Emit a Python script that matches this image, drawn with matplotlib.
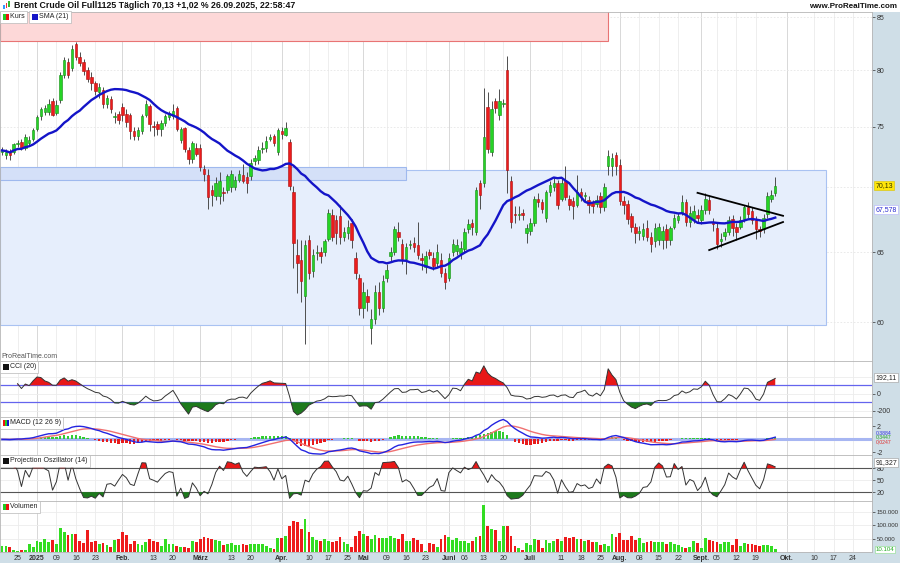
import matplotlib
matplotlib.use("Agg")
import matplotlib.pyplot as plt
import numpy as np
import pandas as pd
from matplotlib.patches import Rectangle
from matplotlib.ticker import FuncFormatter, NullLocator

plt.rcParams['font.family'] = ['Liberation Sans', 'DejaVu Sans']

# Handelstage (ICE Brent), Kalender läuft bis Ende Oktober für die Achse
holidays = ["2025-01-01", "2025-04-18"]
calendar = pd.bdate_range("2024-12-19", "2025-10-31")
calendar = calendar[~calendar.isin(pd.to_datetime(holidays))]

opens = [
    72.9, 72.6, 72.9, 72.9, 73.5, 73.7, 73.2, 73.6, 74.0, 74.8,
    75.9, 76.3, 76.3, 77.2, 76.2, 77.3, 79.6, 80.8, 80.2, 82.4,
    81.2, 80.8, 80.0, 79.4, 78.8, 78.0, 78.2, 77.0, 77.4, 75.8,
    76.1, 76.7, 76.1, 76.0, 74.6, 74.2, 74.6, 76.0, 76.8, 75.1,
    75.2, 74.8, 75.3, 75.8, 75.9, 76.6, 73.9, 74.9, 73.0, 72.3,
    73.2, 73.2, 71.5, 71.0, 69.8, 69.3, 69.3, 69.6, 69.8, 70.0,
    70.0, 70.6, 71.0, 70.8, 70.9, 72.1, 72.2, 73.1, 73.2, 74.0,
    74.2, 72.9, 74.6, 74.3, 73.7, 69.6, 64.8, 64.4, 61.8, 65.9,
    63.6, 64.9, 65.0, 65.0, 66.0, 67.8, 67.4, 67.7, 66.1, 66.4,
    67.2, 64.6, 63.1, 61.0, 61.8, 59.6, 60.2, 62.1, 61.0, 63.1,
    64.7, 65.0, 66.5, 65.6, 64.5, 65.5, 65.7, 65.5, 64.6, 63.9,
    65.0, 64.6, 64.2, 64.4, 63.5, 63.1, 65.0, 65.1, 64.9, 65.2,
    66.7, 67.2, 66.5, 70.3, 70.3, 76.7, 72.9, 77.2, 76.0, 77.0,
    80.0, 70.5, 67.9, 67.8, 68.0, 66.4, 66.6, 67.2, 69.1, 68.8,
    67.6, 69.6, 70.0, 70.3, 69.1, 70.5, 69.1, 68.9, 68.6, 69.6,
    69.3, 69.0, 68.8, 68.7, 69.3, 68.4, 71.7, 71.7, 72.6, 71.8,
    68.9, 68.7, 67.7, 66.9, 66.4, 66.2, 66.8, 66.1, 65.8, 65.9,
    65.9, 66.7, 65.9, 66.9, 67.4, 68.0, 68.8, 67.3, 67.5, 67.8,
    67.4, 68.2, 69.0, 67.3, 66.8, 65.8, 66.2, 66.5, 67.5, 66.9,
    66.9, 67.5, 68.4, 68.1, 67.4, 66.7, 66.7, 67.9, 69.1, 69.5,
]
highs = [
    73.3, 73.1, 73.1, 73.6, 73.9, 74.0, 74.4, 74.2, 74.9, 76.0,
    76.7, 76.9, 77.4, 77.5, 77.3, 79.8, 81.2, 81.1, 82.3, 82.6,
    81.7, 81.0, 80.3, 79.8, 79.0, 78.8, 78.5, 77.8, 77.7, 76.3,
    76.4, 77.1, 76.5, 76.2, 75.0, 75.0, 76.1, 77.3, 77.0, 75.5,
    75.5, 75.6, 76.1, 76.4, 77.0, 76.8, 75.0, 75.0, 73.3, 73.8,
    73.6, 73.5, 71.8, 71.5, 70.2, 70.8, 71.2, 70.0, 71.1, 71.4,
    70.9, 71.4, 71.9, 71.2, 72.3, 72.6, 73.4, 73.7, 74.2, 74.4,
    74.4, 74.9, 75.0, 75.4, 74.0, 70.1, 66.0, 65.9, 65.9, 66.3,
    65.2, 65.5, 65.4, 66.0, 68.3, 68.3, 67.8, 68.6, 66.9, 67.4,
    67.5, 65.0, 63.4, 62.8, 62.3, 60.9, 62.6, 62.8, 63.3, 64.1,
    65.4, 67.0, 67.3, 66.0, 65.7, 65.9, 66.1, 67.3, 64.9, 65.1,
    65.2, 65.0, 65.6, 64.9, 63.8, 64.9, 66.0, 66.0, 65.8, 66.8,
    67.5, 67.5, 70.0, 70.6, 78.4, 78.0, 77.2, 77.5, 78.3, 77.4,
    81.3, 70.9, 68.5, 68.5, 68.3, 67.1, 67.6, 69.3, 69.5, 69.1,
    69.8, 70.5, 70.8, 70.6, 70.7, 71.7, 69.4, 69.2, 71.0, 69.9,
    69.6, 69.3, 69.0, 69.4, 69.6, 70.3, 73.0, 72.8, 72.9, 72.3,
    69.3, 69.0, 68.0, 67.2, 67.0, 67.2, 67.4, 66.5, 67.2, 67.2,
    67.0, 67.1, 67.0, 67.9, 68.0, 69.4, 69.1, 68.5, 68.6, 68.3,
    68.6, 69.5, 69.3, 67.6, 67.3, 66.4, 66.8, 67.7, 67.8, 67.2,
    67.7, 68.6, 68.8, 68.4, 67.7, 67.0, 67.9, 69.6, 69.8, 70.8,
]
lows = [
    72.6, 72.3, 72.2, 72.7, 73.3, 73.0, 73.0, 73.4, 73.8, 74.6,
    75.6, 76.0, 76.0, 75.9, 76.0, 77.1, 79.3, 79.3, 79.9, 80.9,
    80.4, 79.6, 78.9, 78.2, 77.8, 77.5, 76.6, 76.6, 76.2, 75.3,
    75.2, 75.5, 75.0, 74.0, 73.9, 73.9, 74.4, 75.8, 74.6, 74.2,
    74.3, 74.2, 75.1, 75.6, 75.7, 74.6, 73.6, 72.9, 71.9, 72.0,
    72.5, 71.3, 70.5, 68.3, 68.5, 69.0, 68.7, 68.9, 69.5, 69.6,
    69.8, 70.4, 70.3, 69.5, 70.6, 71.8, 71.9, 72.8, 72.9, 73.8,
    73.4, 72.6, 74.0, 74.2, 69.8, 63.8, 62.0, 61.4, 58.5, 63.0,
    63.2, 64.4, 64.2, 64.7, 65.8, 65.8, 65.6, 65.6, 65.8, 66.0,
    65.3, 63.0, 60.5, 60.3, 60.8, 58.5, 59.9, 60.5, 60.7, 62.8,
    64.3, 64.8, 65.8, 64.1, 63.4, 65.2, 65.0, 64.5, 63.7, 63.5,
    64.5, 63.7, 63.9, 63.2, 62.3, 62.9, 64.7, 64.8, 64.5, 64.9,
    66.4, 66.3, 66.3, 68.3, 70.0, 72.8, 72.5, 76.2, 75.6, 76.7,
    69.5, 66.8, 67.2, 67.4, 67.4, 65.7, 66.3, 67.0, 68.4, 68.0,
    67.3, 69.3, 69.7, 68.3, 68.9, 69.0, 68.2, 67.5, 68.4, 68.9,
    68.9, 68.0, 68.0, 68.4, 68.0, 68.1, 71.0, 70.9, 71.0, 68.6,
    67.9, 67.1, 66.5, 65.7, 65.9, 65.9, 65.8, 65.0, 65.4, 65.5,
    65.2, 65.3, 65.5, 66.7, 67.2, 67.8, 67.0, 66.9, 67.2, 67.2,
    67.1, 67.9, 67.9, 66.6, 65.2, 65.4, 65.9, 66.3, 66.2, 65.9,
    66.7, 67.3, 67.6, 67.1, 66.0, 66.1, 66.4, 67.6, 68.8, 69.3,
]
closes = [
    73.0, 72.9, 72.6, 73.5, 73.6, 73.2, 74.1, 73.9, 74.7, 75.8,
    76.5, 76.6, 77.0, 76.0, 76.9, 79.6, 80.9, 79.6, 82.0, 81.2,
    80.7, 79.9, 79.2, 78.8, 78.1, 78.5, 77.0, 77.5, 76.5, 75.9,
    75.6, 76.0, 75.4, 74.6, 74.2, 74.7, 75.9, 77.0, 75.2, 75.0,
    74.8, 75.3, 75.9, 76.2, 76.4, 74.8, 74.8, 73.1, 72.3, 73.6,
    72.7, 71.6, 71.1, 69.2, 69.4, 70.3, 70.5, 69.5, 70.9, 71.1,
    70.6, 71.1, 70.5, 70.3, 72.0, 72.4, 73.0, 73.2, 73.8, 74.1,
    73.6, 74.7, 74.4, 74.9, 70.1, 65.7, 64.2, 62.9, 65.5, 63.5,
    64.8, 65.0, 64.7, 65.8, 68.0, 66.1, 66.4, 66.1, 66.5, 66.9,
    65.9, 63.5, 61.0, 62.1, 61.4, 60.2, 62.1, 61.0, 62.9, 63.7,
    65.0, 66.7, 66.1, 64.5, 65.4, 65.6, 65.4, 64.8, 64.4, 64.7,
    64.8, 64.0, 65.0, 63.5, 62.8, 64.6, 65.6, 65.5, 65.3, 66.5,
    67.1, 66.9, 69.8, 69.4, 74.1, 73.1, 76.5, 76.6, 77.2, 77.1,
    71.4, 67.3, 67.8, 67.9, 67.8, 66.8, 67.2, 69.1, 68.8, 68.3,
    69.6, 70.2, 70.3, 68.6, 70.3, 69.2, 68.6, 68.5, 69.6, 69.3,
    69.3, 68.6, 68.5, 69.0, 68.4, 70.0, 72.5, 72.4, 71.7, 68.9,
    68.6, 67.5, 66.9, 66.4, 66.6, 66.7, 66.1, 65.6, 66.8, 66.9,
    66.6, 65.9, 66.8, 67.6, 67.7, 68.8, 67.3, 68.0, 68.1, 67.6,
    68.2, 69.1, 68.2, 67.1, 65.6, 66.0, 66.5, 67.4, 66.8, 66.5,
    67.4, 68.4, 67.9, 67.4, 66.7, 66.6, 67.6, 69.3, 69.4, 70.13,
]
volumes = [
    23750, 21250, 17500, 8750, 2500, 6250, 6250, 31250, 18750, 40000,
    37500, 50000, 37500, 46250, 31250, 90000, 75000, 65000, 68750, 68750,
    42500, 33750, 82500, 38750, 42500, 30000, 33750, 27500, 18750, 43750,
    47500, 75000, 62500, 31250, 40000, 31250, 25000, 37500, 47500, 40000,
    38750, 21250, 47500, 30000, 30000, 23750, 18750, 17500, 15000, 41250,
    36250, 48750, 57500, 52500, 50000, 45000, 40000, 27500, 31250, 32500,
    25000, 27500, 30000, 25000, 31250, 28750, 31250, 28750, 23750, 15000,
    12500, 52500, 52500, 58750, 97500, 117500, 112500, 86250, 125000, 75000,
    56250, 43750, 40000, 48750, 40000, 37500, 41250, 56250, 37500, 28750,
    18750, 60000, 77500, 67500, 58750, 50000, 62500, 53750, 53750, 51250,
    58750, 53750, 48750, 67500, 40000, 41250, 51250, 43750, 30000, 5000,
    33750, 31250, 18750, 48750, 62500, 56250, 43750, 52500, 40000, 40000,
    33750, 40000, 55000, 61250, 175000, 97500, 87500, 82500, 42500, 97500,
    97500, 60000, 21250, 15000, 7500, 33750, 27500, 48750, 43750, 15000,
    45000, 33750, 42500, 50000, 40000, 55000, 51250, 55000, 50000, 50000,
    41250, 45000, 37500, 37500, 27500, 30000, 23750, 68750, 57500, 70000,
    43750, 43750, 58750, 43750, 52500, 33750, 36250, 40000, 36250, 36250,
    36250, 31250, 37500, 30000, 27500, 20000, 16250, 18750, 42500, 32500,
    15000, 53750, 46250, 40000, 38750, 30000, 38750, 36250, 27500, 48750,
    22500, 33750, 30000, 30000, 27500, 21250, 26250, 26250, 21250, 10104,
]

# Datumsachse: (Datum, Beschriftung, Monatsanfang?)
date_ticks = [
    ("2024-12-25", "25", False), ("2025-01-02", "2025", True), ("2025-01-09", "09", False),
    ("2025-01-16", "16", False), ("2025-01-23", "23", False), ("2025-02-03", "Feb.", True),
    ("2025-02-13", "13", False), ("2025-02-20", "20", False), ("2025-03-03", "März", True),
    ("2025-03-13", "13", False), ("2025-03-20", "20", False), ("2025-04-01", "Apr.", True),
    ("2025-04-10", "10", False), ("2025-04-17", "17", False), ("2025-04-25", "25", False),
    ("2025-05-01", "Mai", True), ("2025-05-09", "09", False), ("2025-05-16", "16", False),
    ("2025-05-23", "23", False), ("2025-06-02", "Juni", True), ("2025-06-06", "06", False),
    ("2025-06-13", "13", False), ("2025-06-20", "20", False), ("2025-07-01", "Juli", True),
    ("2025-07-11", "11", False), ("2025-07-18", "18", False), ("2025-07-25", "25", False),
    ("2025-08-01", "Aug.", True), ("2025-08-08", "08", False), ("2025-08-15", "15", False),
    ("2025-08-22", "22", False), ("2025-09-01", "Sept.", True), ("2025-09-05", "05", False),
    ("2025-09-12", "12", False), ("2025-09-19", "19", False), ("2025-10-01", "Okt.", True),
    ("2025-10-10", "10", False), ("2025-10-17", "17", False), ("2025-10-24", "24", False),
]

# eingezeichnete Zonen (Start, Ende, unten, oben) und Dreieck
red_zone = ("2024-12-18", "2025-07-29", 82.7, 90.0)
blue_zone = ("2024-12-18", "2025-10-15", 59.8, 71.35)
blue_small = ("2024-12-18", "2025-05-16", 70.6, 71.65)
tri_upper = [("2025-08-29", 69.55), ("2025-09-30", 67.75)]
tri_lower = [("2025-09-03", 65.15), ("2025-09-30", 67.27)]

o = np.array(opens); h = np.array(highs); l = np.array(lows); c = np.array(closes)
v = np.array(volumes)
n = len(c)
x = np.arange(n)


def pos(d):
    d = pd.Timestamp(d)
    return calendar.searchsorted(d) - (0 if d in calendar else 0.5)


# Indikatoren
cs = pd.Series(c)
sma = cs.rolling(21, min_periods=1).mean()
tp = pd.Series((h + l + c) / 3)
tp_ma = tp.rolling(20, min_periods=5).mean()
mad = tp.rolling(20, min_periods=5).apply(lambda w: np.mean(np.abs(w - w.mean())), raw=True)
cci = ((tp - tp_ma) / (0.015 * mad)).values
ema12 = cs.ewm(span=12, adjust=False).mean()
ema26 = cs.ewm(span=26, adjust=False).mean()
macd = (ema12 - ema26).values
signal = pd.Series(macd).ewm(span=9, adjust=False).mean().values
hist = macd - signal

po = np.full(n, np.nan)
for i in range(n):
    s = max(0, i - 13)
    k = i - s + 1
    if k < 4:
        continue
    t = np.arange(k)
    mh = np.polyfit(t, h[s:i + 1], 1)[0]
    ml = np.polyfit(t, l[s:i + 1], 1)[0]
    upper = np.max(h[s:i + 1] + mh * (k - 1 - t))
    lower = np.min(l[s:i + 1] + ml * (k - 1 - t))
    po[i] = 100 * (c[i] - lower) / (upper - lower)

# Figur
W, H = 900, 563
fig = plt.figure(figsize=(9, 5.63), dpi=100)
fig.patch.set_facecolor('white')
strip = '#cfdee7'
fig.patches.append(Rectangle((872 / W, 0), 28 / W, 1 - 12 / H, transform=fig.transFigure,
                             facecolor=strip, edgecolor='none', zorder=-5))
fig.patches.append(Rectangle((0, 0), 1, 11 / H, transform=fig.transFigure,
                             facecolor=strip, edgecolor='none', zorder=-5))


def box(top, bottom):
    return [0, 1 - bottom / H, 872 / W, (bottom - top) / H]


ax_p = fig.add_axes(box(12, 361))
ax_cci = fig.add_axes(box(361, 417))
ax_macd = fig.add_axes(box(417, 455))
ax_po = fig.add_axes(box(455, 501))
ax_vol = fig.add_axes(box(501, 552))
axes = [ax_p, ax_cci, ax_macd, ax_po, ax_vol]

tick_pos = [pos(d) for d, _, _ in date_ticks]
for ax in axes:
    ax.set_xlim(-0.52, 223.9)
    for sp in ax.spines.values():
        sp.set_color('#b5b5b5')
        sp.set_linewidth(0.6)
    ax.yaxis.tick_right()
    ax.tick_params(axis='y', which='both', direction='out', length=2, width=0.5,
                   pad=1.5, labelsize=5, colors='#333333')
    ax.tick_params(axis='x', length=0, labelbottom=False)
    for p, (_, _, month) in zip(tick_pos, date_ticks):
        ax.axvline(p, color='#d2d2d2' if month else '#ebebeb', lw=0.6, zorder=0)

# Kurs
ax_p.set_yscale('log')
ax_p.set_ylim(57.4, 85.5)
ax_p.yaxis.set_minor_locator(NullLocator())
ax_p.set_yticks([60, 65, 75, 80, 85])
ax_p.set_yticklabels(['60', '65', '75', '80', '85'])
for lv in [60, 65, 70, 75, 80, 85]:
    ax_p.axhline(lv, color='#e6e6e6', lw=0.6, ls=(0, (2, 2)), zorder=0)


def zone(ax, z, fc, ec, zo):
    x0, x1 = pos(z[0]), pos(z[1])
    ax.add_patch(Rectangle((x0, z[2]), x1 - x0, z[3] - z[2], facecolor=fc, edgecolor=ec,
                           lw=0.8, zorder=zo))


zone(ax_p, red_zone, '#fdd8d8', '#e87474', 1)
zone(ax_p, blue_zone, '#e6eefc', '#a9c2f2', 1)
zone(ax_p, blue_small, '#d4e0f8', '#9fb9ee', 1.1)

up = c >= o
ax_p.vlines(x, l, h, color='#4d4d4d', lw=0.7, zorder=3)
body = np.maximum(np.abs(c - o), 0.06)
ax_p.bar(x, body, bottom=np.minimum(o, c), width=0.64,
         color=np.where(up, '#25d425', '#ec1c1c'),
         edgecolor=np.where(up, '#128a12', '#a80d0d'), lw=0.4, zorder=4)
ax_p.plot(x, sma, color='#1414c8', lw=1.7, zorder=5)

for seg in (tri_upper, tri_lower):
    ax_p.plot([pos(seg[0][0]), pos(seg[1][0])], [seg[0][1], seg[1][1]],
              color='black', lw=1.3, zorder=6)

ax_p.text(0.002, 0.004, 'ProRealTime.com', transform=ax_p.transAxes, fontsize=5,
          color='#555555', va='bottom', ha='left')

yt = ax_p.get_yaxis_transform()
ax_p.text(1.004, c[-1], '70,13', transform=yt, fontsize=5, va='center', ha='left',
          color='#333300', zorder=10, clip_on=False,
          bbox=dict(boxstyle='square,pad=0.15', fc='#ffe60a', ec='#d8c000', lw=0.4))
ax_p.annotate('67,578', xy=(1.004, sma.iloc[-1]), xycoords=yt, xytext=(0, 6),
              textcoords='offset points', fontsize=5, va='center', ha='left',
              color='#2a2ad0', annotation_clip=False,
              bbox=dict(boxstyle='square,pad=0.15', fc='white', ec='#b0b0ff', lw=0.4))

# CCI
ax_cci.set_ylim(-273, 386)
ax_cci.set_yticks([0, -200])
ax_cci.set_yticklabels(['0', '-200'])
for lv in [0, 200, -200]:
    ax_cci.axhline(lv, color='#ececec', lw=0.6, zorder=0)
ax_cci.axhline(100, color='#6464ee', lw=0.9, zorder=2)
ax_cci.axhline(-100, color='#6464ee', lw=0.9, zorder=2)
ax_cci.fill_between(x, cci, 100, where=cci > 100, interpolate=True, color='#e81818', lw=0, zorder=3)
ax_cci.fill_between(x, cci, -100, where=cci < -100, interpolate=True, color='#1d7a1d', lw=0, zorder=3)
ax_cci.plot(x, cci, color='#333333', lw=0.7, zorder=4)
ax_cci.text(1.004, 192.11, '192,11', transform=ax_cci.get_yaxis_transform(), fontsize=5,
            va='center', ha='left', color='#222222', clip_on=False,
            bbox=dict(boxstyle='square,pad=0.15', fc='white', ec='#999999', lw=0.4))

# MACD
ax_macd.set_ylim(-2.4, 3.45)
ax_macd.set_yticks([2, -2])
ax_macd.set_yticklabels(['2', '-2'])
ax_macd.axhline(0, color='#a7b6f2', lw=2.2, zorder=1)
ax_macd.bar(x, hist, width=0.6, color=np.where(hist >= 0, '#33cc33', '#e81c1c'), lw=0, zorder=2)
ax_macd.plot(x, signal, color='#f07070', lw=1.0, zorder=3)
ax_macd.plot(x, macd, color='#2424e0', lw=1.0, zorder=4)
myt = ax_macd.get_yaxis_transform()
for val, txt, col in [(0.95, '0,3884', '#3030e0'), (0.33, '0,3447', '#20a020'),
                      (-0.29, '0,0247', '#e03030')]:
    ax_macd.text(1.004, val, txt, transform=myt, fontsize=3.7, va='center', ha='left',
                 color=col, clip_on=False)

# Projection Oszillator
ax_po.set_ylim(-2, 113)
ax_po.set_yticks([80, 50, 20])
ax_po.set_yticklabels(['80', '50', '20'])
ax_po.axhline(50, color='#ececec', lw=0.6, zorder=0)
ax_po.axhline(80, color='#555555', lw=0.8, zorder=2)
ax_po.axhline(20, color='#555555', lw=0.8, zorder=2)
ax_po.fill_between(x, po, 80, where=po > 80, interpolate=True, color='#e81818', lw=0, zorder=3)
ax_po.fill_between(x, po, 20, where=po < 20, interpolate=True, color='#1d7a1d', lw=0, zorder=3)
ax_po.plot(x, po, color='#333333', lw=0.7, zorder=4)
ax_po.text(1.004, 93.5, '91,327', transform=ax_po.get_yaxis_transform(), fontsize=5,
           va='center', ha='left', color='#222222', clip_on=False,
           bbox=dict(boxstyle='square,pad=0.15', fc='white', ec='#999999', lw=0.4))

# Volumen
ax_vol.set_ylim(0, 191000)
ax_vol.set_yticks([50000, 100000, 150000])
ax_vol.yaxis.set_major_formatter(FuncFormatter(lambda val, _: f"{int(val):,}".replace(",", ".")))
ax_vol.tick_params(axis='y', labelsize=4.4)
for lv in [50000, 100000, 150000]:
    ax_vol.axhline(lv, color='#ececec', lw=0.6, zorder=0)
ax_vol.bar(x, v, width=0.72, color=np.where(up, '#33dd22', '#ee1c1c'), lw=0, zorder=2)
ax_vol.text(1.004, v[-1], '10.104', transform=ax_vol.get_yaxis_transform(), fontsize=4.4,
            va='center', ha='left', color='#22aa22', clip_on=False,
            bbox=dict(boxstyle='square,pad=0.12', fc='white', ec='#88dd88', lw=0.4))

ax_vol.set_xticks(tick_pos)
ax_vol.set_xticklabels([lab for _, lab, _ in date_ticks])
ax_vol.tick_params(axis='x', length=0, labelbottom=True, labelsize=5, pad=2, colors='#333333')
for lab, (_, _, month) in zip(ax_vol.get_xticklabels(), date_ticks):
    if month:
        lab.set_fontweight('bold')

# Kopfzeile
fig.text(14 / W, 1 - 6 / H, 'Brent Crude Oil Full1125 Täglich 70,13 +1,02 % 26.09.2025, 22:58:47',
         fontsize=6.3, fontweight='bold', va='center', ha='left', color='#111111')
fig.text(897 / W, 1 - 6 / H, 'www.ProRealTime.com', fontsize=5.8, fontweight='bold',
         va='center', ha='right', color='#111111')
for k, col in enumerate(['#3399ff', '#ee3333', '#33bb33']):
    fig.patches.append(Rectangle(((3 + 2.5 * k) / W, 1 - (9 - k) / H), 1.6 / W, (4 + k) / H,
                                 transform=fig.transFigure, facecolor=col, edgecolor='none'))


# Legenden der Panels
def legend_box(px, py, text, icon):
    t = fig.text((px + 1) / W, 1 - py / H, '    ' + text, fontsize=5, va='center', ha='left',
                 color='#222222', zorder=8,
                 bbox=dict(boxstyle='square,pad=0.3', fc='white', ec='#b8b8b8', lw=0.5))
    w = 6.0 / len(icon)
    for k, col in enumerate(icon):
        fig.patches.append(Rectangle(((px + 1.5 + k * w) / W, 1 - (py + 3) / H), w / W, 6 / H,
                                     transform=fig.transFigure, facecolor=col,
                                     edgecolor='none', zorder=9))
    return t


legend_box(1, 17, 'Kurs', ['#22cc22', '#ee1111'])
legend_box(30, 17, 'SMA (21)', ['#1414c8'])
legend_box(1, 367, 'CCI (20)', ['#111111'])
legend_box(1, 423, 'MACD (12 26 9)', ['#ee1111', '#22cc22', '#1414c8'])
legend_box(1, 461, 'Projection Oszillator (14)', ['#111111'])
legend_box(1, 507, 'Volumen', ['#22cc22', '#ee1111'])

fig.savefig('out.png', dpi=100)
